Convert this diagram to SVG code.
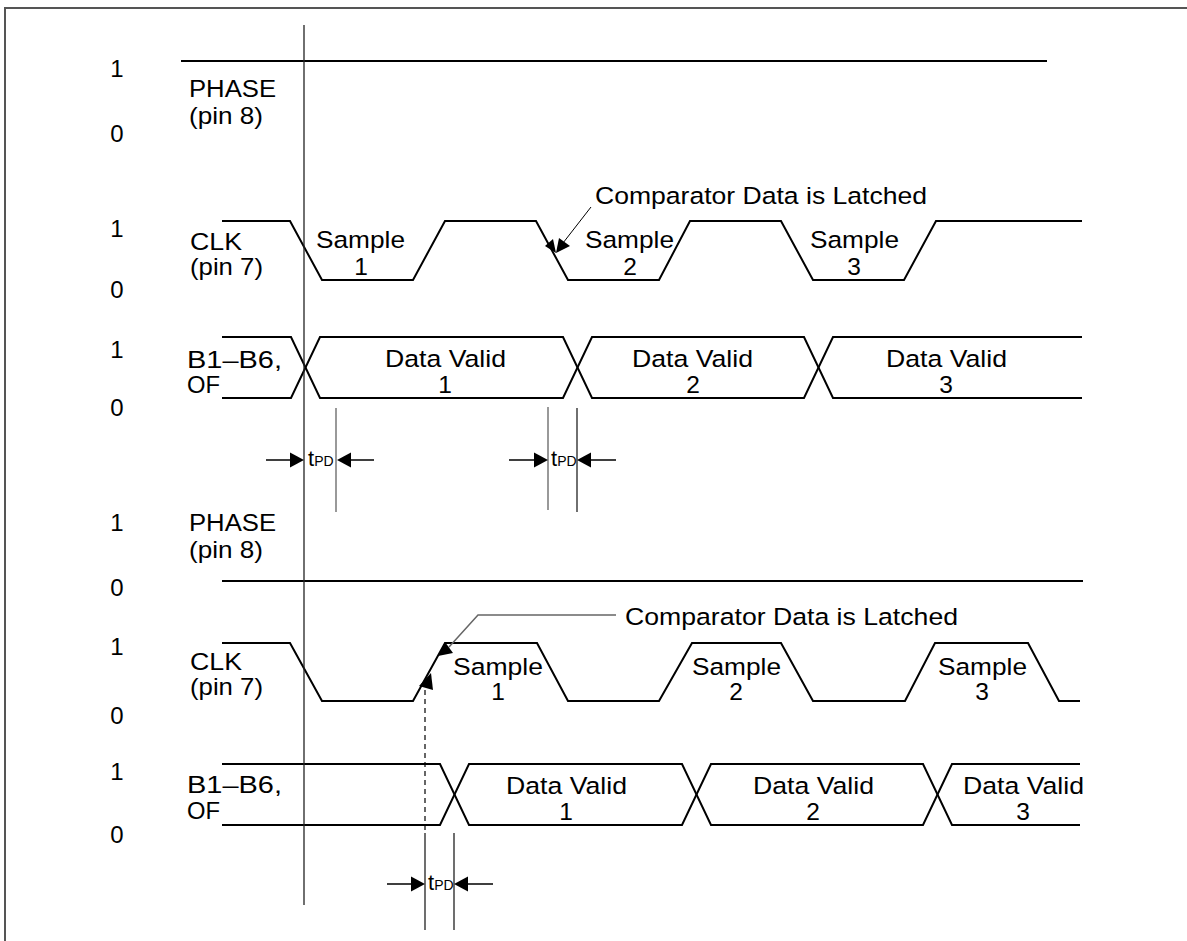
<svg xmlns="http://www.w3.org/2000/svg" width="1187" height="941" viewBox="0 0 1187 941">
<style>
.w{fill:none;stroke:#000;stroke-width:2}
.g{fill:none;stroke:#222;stroke-width:1.3}
.gl{fill:none;stroke:#777;stroke-width:1.5}
text{font-family:"Liberation Sans",Arial,sans-serif;fill:#000}
.t{font-size:24.5px}
.lv{font-size:24px;text-anchor:middle}
.c{text-anchor:middle}
.tp{font-size:22px}
.sub{font-size:14px}
.ah{fill:#000;stroke:none}
</style>
<rect width="1187" height="941" fill="#fff"/>
<path d="M5,941 V8 H1187" fill="none" stroke="#555" stroke-width="2"/>

<g id="levels">
<text class="lv" x="117" y="77">1</text>
<text class="lv" x="117" y="142">0</text>
<text class="lv" x="117" y="237">1</text>
<text class="lv" x="117" y="298">0</text>
<text class="lv" x="117" y="358">1</text>
<text class="lv" x="117" y="416">0</text>
<text class="lv" x="117" y="531">1</text>
<text class="lv" x="117" y="596">0</text>
<text class="lv" x="117" y="655">1</text>
<text class="lv" x="117" y="724">0</text>
<text class="lv" x="117" y="780">1</text>
<text class="lv" x="117" y="843">0</text>
</g>

<g id="signal-names">
<text class="t" x="189" y="97" textLength="87" lengthAdjust="spacingAndGlyphs">PHASE</text>
<text class="t" x="189" y="124" textLength="74" lengthAdjust="spacingAndGlyphs">(pin 8)</text>
<text class="t" x="190" y="250" textLength="52" lengthAdjust="spacingAndGlyphs">CLK</text>
<text class="t" x="190" y="275" textLength="73" lengthAdjust="spacingAndGlyphs">(pin 7)</text>
<text class="t" x="187" y="368" textLength="95" lengthAdjust="spacingAndGlyphs">B1–B6,</text>
<text class="t" x="187" y="393" textLength="33" lengthAdjust="spacingAndGlyphs">OF</text>
<text class="t" x="189" y="531" textLength="87" lengthAdjust="spacingAndGlyphs">PHASE</text>
<text class="t" x="189" y="558" textLength="74" lengthAdjust="spacingAndGlyphs">(pin 8)</text>
<text class="t" x="190" y="670" textLength="52" lengthAdjust="spacingAndGlyphs">CLK</text>
<text class="t" x="190" y="695" textLength="73" lengthAdjust="spacingAndGlyphs">(pin 7)</text>
<text class="t" x="187" y="793" textLength="95" lengthAdjust="spacingAndGlyphs">B1–B6,</text>
<text class="t" x="187" y="819" textLength="33" lengthAdjust="spacingAndGlyphs">OF</text>
</g>

<g id="waveforms">
<path class="w" d="M181,61 H1047"/>
<path class="w" d="M222,221 H290 L322,280 H413 L445,221 H536 L568,280 H659 L690,221 H781 L813,280 H904 L936,221 H1082"/>
<path class="w" d="M222,337 H291 L320,398 H563 L592,337 H804 L833,398 H1082"/>
<path class="w" d="M222,398 H291 L320,337 H563 L592,398 H804 L833,337 H1082"/>
<path class="w" d="M222,581 H1083"/>
<path class="w" d="M222,643 H290 L322,701 H413 L445,643 H537 L568,701 H659 L692,643 H781 L813,701 H905 L935,643 H1028 L1059,701 H1080"/>
<path class="w" d="M222,764 H440 L469,825 H682 L711,764 H923 L952,825 H1080"/>
<path class="w" d="M222,825 H440 L469,764 H682 L711,825 H923 L952,764 H1080"/>
</g>

<g id="waveform-labels">
<text class="t" x="316" y="248" textLength="89" lengthAdjust="spacingAndGlyphs">Sample</text>
<text class="t c" x="361" y="275">1</text>
<text class="t" x="585" y="248" textLength="89" lengthAdjust="spacingAndGlyphs">Sample</text>
<text class="t c" x="630" y="275">2</text>
<text class="t" x="810" y="248" textLength="89" lengthAdjust="spacingAndGlyphs">Sample</text>
<text class="t c" x="854" y="275">3</text>
<text class="t" x="385" y="367" textLength="121" lengthAdjust="spacingAndGlyphs">Data Valid</text>
<text class="t c" x="445" y="393">1</text>
<text class="t" x="632" y="367" textLength="121" lengthAdjust="spacingAndGlyphs">Data Valid</text>
<text class="t c" x="693" y="393">2</text>
<text class="t" x="886" y="367" textLength="121" lengthAdjust="spacingAndGlyphs">Data Valid</text>
<text class="t c" x="946" y="393">3</text>
<text class="t" x="453" y="675" textLength="90" lengthAdjust="spacingAndGlyphs">Sample</text>
<text class="t c" x="498" y="700">1</text>
<text class="t" x="692" y="675" textLength="89" lengthAdjust="spacingAndGlyphs">Sample</text>
<text class="t c" x="736" y="700">2</text>
<text class="t" x="938" y="675" textLength="89" lengthAdjust="spacingAndGlyphs">Sample</text>
<text class="t c" x="982" y="700">3</text>
<text class="t" x="506" y="794" textLength="121" lengthAdjust="spacingAndGlyphs">Data Valid</text>
<text class="t c" x="566" y="820">1</text>
<text class="t" x="753" y="794" textLength="121" lengthAdjust="spacingAndGlyphs">Data Valid</text>
<text class="t c" x="813" y="820">2</text>
<text class="t" x="963" y="794" textLength="121" lengthAdjust="spacingAndGlyphs">Data Valid</text>
<text class="t c" x="1023" y="820">3</text>
<text class="t" x="595" y="204" textLength="332" lengthAdjust="spacingAndGlyphs">Comparator Data is Latched</text>
<text class="t" x="625" y="625" textLength="333" lengthAdjust="spacingAndGlyphs">Comparator Data is Latched</text>
</g>

<g id="connectors">
<path class="g" d="M304,25 V905"/>
<path d="M591,207 L563,243" fill="none" stroke="#000" stroke-width="1"/>
<polygon class="ah" points="556,253 559,238 570,246"/>
<polygon class="ah" points="556,253 545,246 553,239"/>
<path d="M616,615 H478 L449,647" fill="none" stroke="#666" stroke-width="1.5"/>
<polygon class="ah" points="438,656 453,653 445,642"/>
<polygon class="ah" points="431,673 433,690 419,686"/>
<path d="M425,690 V833" fill="none" stroke="#000" stroke-width="1.2" stroke-dasharray="5,4"/>
<path class="gl" d="M336,408 V512"/>
<path d="M266,460 H292 M350,460 H374" fill="none" stroke="#000" stroke-width="1.3"/>
<polygon class="ah" points="304,460 290,452.5 290,467.5"/>
<polygon class="ah" points="337,460 351,452.5 351,467.5"/>
<text class="tp" x="308" y="466">t<tspan class="sub">PD</tspan></text>
<path class="gl" d="M548,407 V510"/>
<path class="g" d="M577,408 V512"/>
<path d="M509,460 H536 M589,460 H616" fill="none" stroke="#000" stroke-width="1.3"/>
<polygon class="ah" points="548,460 534,452.5 534,467.5"/>
<polygon class="ah" points="577,460 591,452.5 591,467.5"/>
<text class="tp" x="551" y="466">t<tspan class="sub">PD</tspan></text>
<path class="g" d="M425,833 V930 M454,833 V930"/>
<path d="M387,884 H413 M466,884 H493" fill="none" stroke="#000" stroke-width="1.3"/>
<polygon class="ah" points="425,884 411,876.5 411,891.5"/>
<polygon class="ah" points="454,884 468,876.5 468,891.5"/>
<text class="tp" x="428" y="890">t<tspan class="sub">PD</tspan></text>
</g>
</svg>
